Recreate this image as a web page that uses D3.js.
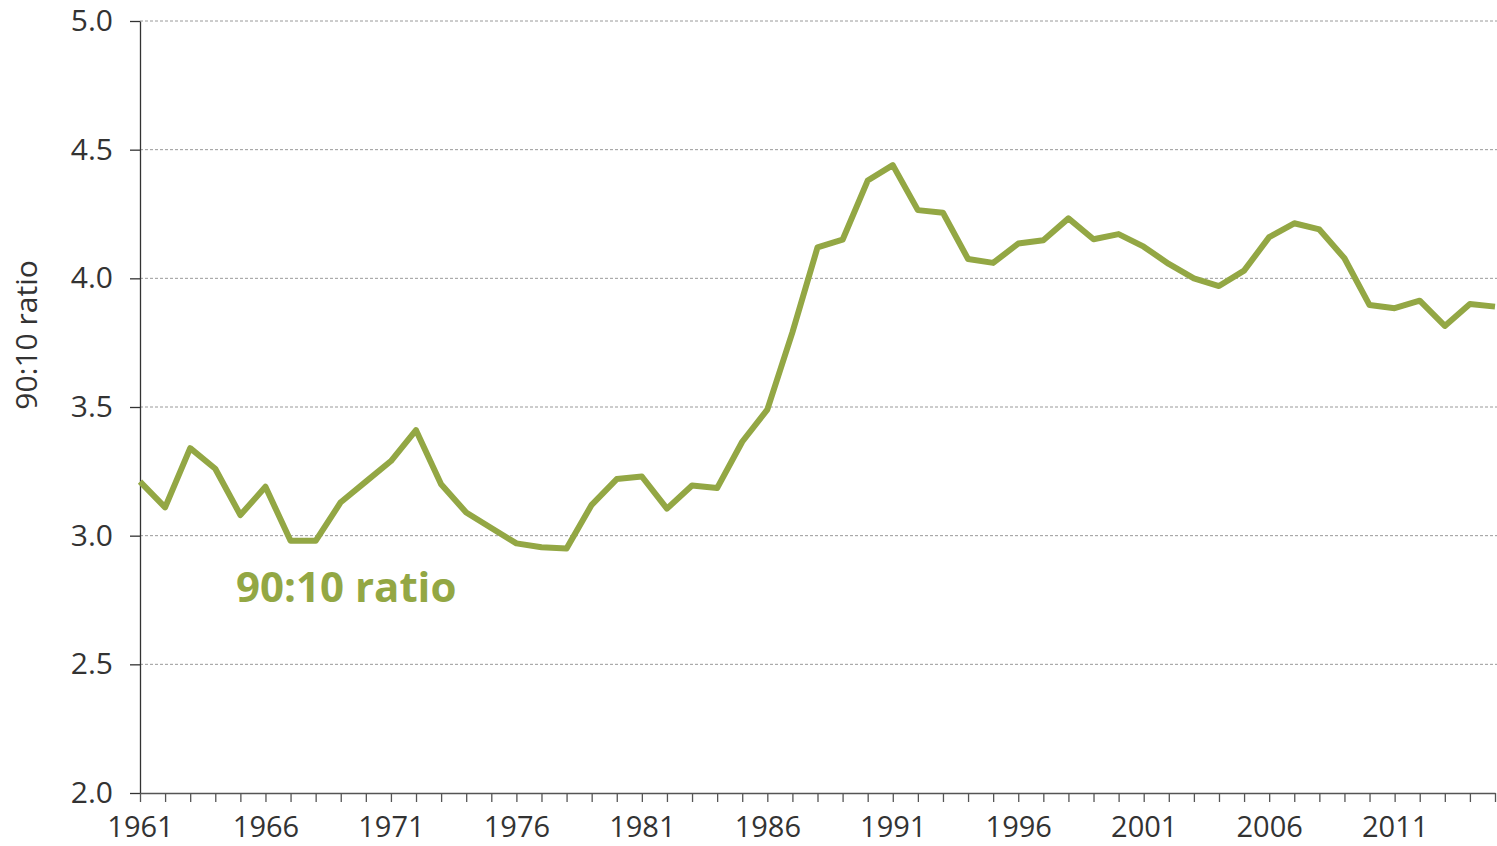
<!DOCTYPE html>
<html>
<head>
<meta charset="utf-8">
<script src="https://cdn.jsdelivr.net/npm/d3@7"></script>
<style>
  body { margin: 0; background: #fff; }
  svg { display: block; }
</style>
</head>
<body>
<svg id="chart" width="1497" height="846"></svg>
<script>
// 90:10 ratio, yearly
const years = d3.range(1961, 2016);
const ratio = [
  3.21, 3.11, 3.34, 3.26, 3.08, 3.19, 2.98, 2.98, 3.13, 3.21,
  3.29, 3.41, 3.20, 3.09, 3.03, 2.97, 2.955, 2.95, 3.12, 3.22,
  3.23, 3.105, 3.195, 3.185, 3.365, 3.49, 3.79, 4.12, 4.15, 4.38,
  4.44, 4.265, 4.255, 4.075, 4.06, 4.135, 4.148, 4.233, 4.152, 4.172,
  4.123, 4.056, 4.00, 3.97, 4.03, 4.16, 4.214, 4.19, 4.078, 3.896,
  3.884, 3.913, 3.815, 3.90, 3.89
];
const yTicks = [2.0, 2.5, 3.0, 3.5, 4.0, 4.5, 5.0];
const xLabelYears = [1961, 1966, 1971, 1976, 1981, 1986, 1991, 1996, 2001, 2006, 2011];

const green = "#93a744";
const svg = d3.select("#chart");

const x = d3.scaleLinear().domain([1961, 2015]).range([140, 1495]);
const y = d3.scaleLinear().domain([2, 5]).range([793, 21]);

// gridlines
svg.append("g")
  .selectAll("line")
  .data(yTicks.filter(d => d > 2))
  .join("line")
    .attr("x1", 140).attr("x2", 1497)
    .attr("y1", d => y(d)).attr("y2", d => y(d))
    .attr("stroke", "#9a9a9a")
    .attr("stroke-width", 1)
    .attr("stroke-dasharray", "3,2");

// y axis
const yAxis = svg.append("g")
    .attr("transform", "translate(140,0)")
    .call(d3.axisLeft(y).tickValues(yTicks).tickFormat(d3.format(".1f")).tickSize(10).tickPadding(17).tickSizeOuter(0));
yAxis.select(".domain").attr("stroke", "#333").attr("stroke-width", 1.3);
yAxis.selectAll(".tick line").attr("stroke", "#333").attr("stroke-width", 1.3);
yAxis.selectAll("text")
    .attr("font-family", "'Open Sans', sans-serif")
    .attr("font-size", 30)
    .attr("fill", "#333");

// x axis: a tick every year, label every 5 years
const xAxis = svg.append("g")
    .attr("transform", "translate(0,793)")
    .call(d3.axisBottom(x).tickValues(years).tickSize(9).tickPadding(14).tickSizeOuter(0)
      .tickFormat(d => xLabelYears.includes(d) ? d : ""));
xAxis.select(".domain").attr("stroke", "#555").attr("stroke-width", 1.3);
xAxis.selectAll(".tick line").attr("stroke", "#555").attr("stroke-width", 1.3);
xAxis.selectAll("text")
    .attr("font-family", "'Open Sans', sans-serif")
    .attr("font-size", 29)
    .attr("fill", "#333");

// y label
svg.append("text")
    .attr("transform", "translate(37,335) rotate(-90)")
    .attr("text-anchor", "middle")
    .attr("font-family", "'Open Sans', sans-serif")
    .attr("font-size", 30)
    .attr("fill", "#333")
    .text("90:10 ratio");

// line
const line = d3.line().x((d, i) => x(years[i])).y(d => y(d));
svg.append("path")
    .datum(ratio)
    .attr("d", line)
    .attr("fill", "none")
    .attr("stroke", green)
    .attr("stroke-width", 6)
    .attr("stroke-linejoin", "round");

// series label
svg.append("text")
    .attr("x", 236).attr("y", 602)
    .attr("font-family", "'Open Sans', sans-serif")
    .attr("font-weight", "bold")
    .attr("font-size", 42)
    .attr("fill", green)
    .text("90:10 ratio");
</script>
</body>
</html>
